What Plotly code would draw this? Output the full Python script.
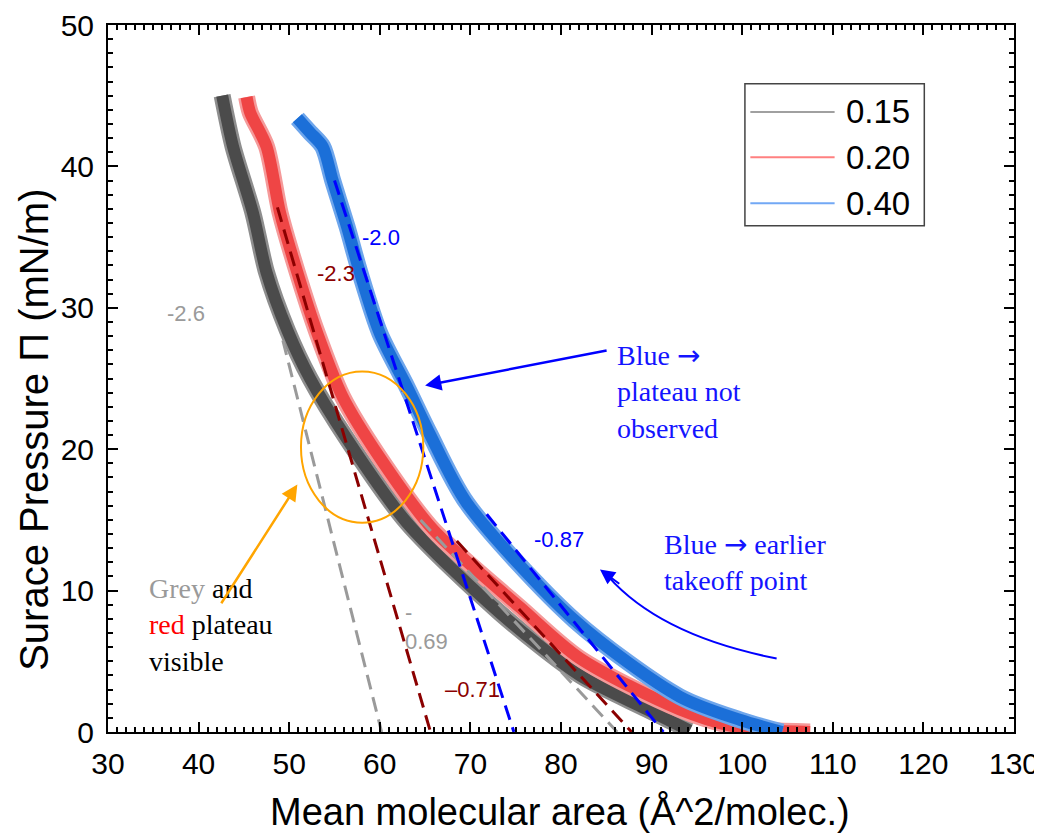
import plotly.graph_objects as go

# ---------------- data ----------------
series_names = ["0.15", "0.20", "0.40"]

grey_x = [42.6, 43.8, 46.0, 47.5, 49.8, 52.3, 56.4, 63.0, 73.3, 82.1, 89.5, 94.2]
grey_y = [45.0, 41.4, 36.7, 32.5, 28.4, 25.0, 20.7, 14.8, 8.4, 4.0, 1.6, 0.1]

red_x = [45.3, 45.7, 47.5, 49.0, 50.9, 53.1, 55.9, 60.0, 65.9, 75.5, 82.1, 93.1, 99.8, 107.5]
red_y = [44.9, 43.8, 41.4, 36.7, 32.5, 28.2, 23.7, 19.4, 14.3, 8.8, 5.2, 1.6, 0.3, 0.0]

blue_x = [50.9, 52.3, 53.7, 54.8, 56.4, 57.8, 60.0, 63.0, 65.5, 69.6, 81.5, 93.1, 99.8, 104.4]
blue_y = [43.4, 42.4, 41.4, 39.0, 35.7, 32.5, 28.2, 24.4, 21.1, 16.2, 7.9, 2.5, 0.85, 0.0]

# fitted tangent lines: [start, end] points
fit_grey_steep_x = [49.3, 60.2];  fit_grey_steep_y = [27.7, 0.0]
fit_grey_flat_x = [64.5, 86.2];   fit_grey_flat_y = [15.0, 0.0]
fit_red_steep_x = [48.7, 65.6];   fit_red_steep_y = [37.1, 0.0]
fit_red_flat_x = [68.5, 87.8];    fit_red_flat_y = [13.5, 0.0]
fit_blue_steep_x = [55.0, 74.8];  fit_blue_steep_y = [39.0, 0.0]
fit_blue_flat_x = [71.8, 91.3];   fit_blue_flat_y = [15.4, 0.0]

slope_labels = ["-2.6", "-2.3", "-2.0", "-0.87", "-<br>0.69", "\u20130.71"]
slope_label_x = [36.3, 52.8, 57.8, 76.8, 62.6, 67.0]
slope_label_y = [29.6, 32.4, 35.0, 13.6, 7.4, 3.0]

x_ticks = [30, 40, 50, 60, 70, 80, 90, 100, 110, 120, 130]
y_ticks = [0, 10, 20, 30, 40, 50]

# ---------------- styles ----------------
GREY_IN, GREY_OUT = "#4b4b4b", "#8e8e8e"
RED_IN, RED_OUT = "#ef4545", "#f59a9a"
BLUE_IN, BLUE_OUT = "#1b6fd8", "#6ea6ec"
FIT_GREY, FIT_RED, FIT_BLUE = "#9a9a9a", "#8b0000", "#0000ff"
SANS = "Liberation Sans, Arial, sans-serif"
SERIF = "Liberation Serif, Times New Roman, serif"
ARROW = "<span style='font-family:DejaVu Sans'>\u2192</span>"

fig = go.Figure()

for xs, ys, cin, cout in [(grey_x, grey_y, GREY_IN, GREY_OUT),
                           (red_x, red_y, RED_IN, RED_OUT),
                           (blue_x, blue_y, BLUE_IN, BLUE_OUT)]:
    fig.add_trace(go.Scatter(x=xs, y=ys, mode="lines",
                             line=dict(color=cout, width=17, shape="spline", smoothing=0.8),
                             showlegend=False, hoverinfo="skip"))
    fig.add_trace(go.Scatter(x=xs, y=ys, mode="lines",
                             line=dict(color=cin, width=12, shape="spline", smoothing=0.8),
                             showlegend=False, hoverinfo="skip"))

for xs, ys, c in [(fit_grey_steep_x, fit_grey_steep_y, FIT_GREY),
                  (fit_grey_flat_x, fit_grey_flat_y, FIT_GREY),
                  (fit_red_steep_x, fit_red_steep_y, FIT_RED),
                  (fit_red_flat_x, fit_red_flat_y, FIT_RED),
                  (fit_blue_steep_x, fit_blue_steep_y, FIT_BLUE),
                  (fit_blue_flat_x, fit_blue_flat_y, FIT_BLUE)]:
    fig.add_trace(go.Scatter(x=xs, y=ys, mode="lines",
                             line=dict(color=c, width=3, dash="15px,8px"),
                             showlegend=False, hoverinfo="skip"))

annotations = []
label_colors = [FIT_GREY, FIT_RED, FIT_BLUE, FIT_BLUE, FIT_GREY, FIT_RED]
for t, x, y, c in zip(slope_labels, slope_label_x, slope_label_y, label_colors):
    annotations.append(dict(x=x, y=y, xref="x", yref="y", text=t, showarrow=False,
                            xanchor="left", yanchor="middle", align="left",
                            font=dict(family=SANS, size=22, color=c)))

# serif comments
annotations.append(dict(x=86.0, y=27.9, xref="x", yref="y", xanchor="left", yanchor="top",
                        align="left", showarrow=False,
                        text="Blue " + ARROW + "<br>plateau not<br>observed",
                        font=dict(family=SERIF, size=28, color="#1414ff")))
annotations.append(dict(x=91.1, y=14.6, xref="x", yref="y", xanchor="left", yanchor="top",
                        align="left", showarrow=False,
                        text="Blue " + ARROW + " earlier<br>takeoff point",
                        font=dict(family=SERIF, size=28, color="#1414ff")))
annotations.append(dict(x=34.3, y=11.4, xref="x", yref="y", xanchor="left", yanchor="top",
                        align="left", showarrow=False,
                        text="<span style='color:#9a9a9a'>Grey</span> and<br>"
                             "<span style='color:#ff0000'>red</span> plateau<br>visible",
                        font=dict(family=SERIF, size=28, color="#000000")))

# arrows
annotations.append(dict(x=65.0, y=24.5, ax=85.2, ay=27.0, xref="x", yref="y",
                        axref="x", ayref="y", text="", showarrow=True,
                        arrowhead=2, arrowsize=1.3, arrowwidth=2.5, arrowcolor="#0000ff"))
annotations.append(dict(x=50.9, y=17.5, ax=42.4, ay=9.0, xref="x", yref="y",
                        axref="x", ayref="y", text="", showarrow=True,
                        arrowhead=2, arrowsize=1.3, arrowwidth=2.5, arrowcolor="#ffa500"))
annotations.append(dict(x=84.3, y=11.5, ax=86.6, ay=10.4, xref="x", yref="y",
                        axref="x", ayref="y", text="", showarrow=True,
                        arrowhead=2, arrowsize=1.5, arrowwidth=2, arrowcolor="#0000ff"))

# axis titles
annotations.append(dict(x=0.499, y=-0.113, xref="paper", yref="paper", showarrow=False,
                        xanchor="center", yanchor="middle",
                        text="Mean molecular area (\u00c5^2/molec.)",
                        font=dict(family=SANS, size=38, color="black")))
annotations.append(dict(x=-0.082, y=0.427, xref="paper", yref="paper", showarrow=False,
                        xanchor="center", yanchor="middle",
                        textangle=-90, text="Surace Pressure \u03a0 (mN/m)",
                        font=dict(family=SANS, size=40, color="black")))

# manual legend
leg_colors = ["#a0a0a0", "#ff8080", "#72a8f5"]
leg_y = [0.877, 0.813, 0.748]
shapes = [dict(type="rect", xref="paper", yref="paper", x0=0.703, x1=0.901, y0=0.716, y1=0.917,
               line=dict(color="#444444", width=1.5), fillcolor="white")]
for name, c, yy in zip(series_names, leg_colors, leg_y):
    shapes.append(dict(type="line", xref="paper", yref="paper", x0=0.709, x1=0.802, y0=yy, y1=yy,
                       line=dict(color=c, width=2)))
    annotations.append(dict(x=0.812, y=yy, xref="paper", yref="paper", text=name,
                            showarrow=False, xanchor="left", yanchor="middle",
                            font=dict(family=SANS, size=33, color="black")))

# orange ellipse and curved blue arrow
shapes.append(dict(type="circle", xref="x", yref="y", x0=51.3, x1=64.8, y0=14.8, y1=25.5,
                   line=dict(color="#ffa500", width=2)))
shapes.append(dict(type="path", xref="x", yref="y", path="M 103.8,5.2 Q 91.0,6.8 85.2,11.0",
                   line=dict(color="#0000ff", width=2)))

axis_common = dict(showline=True, linewidth=2, linecolor="black", mirror="ticks",
                   ticks="inside", ticklen=10, tickwidth=2, tickcolor="black",
                   showgrid=False, zeroline=False, automargin=False,
                   minor=dict(ticks="inside", ticklen=5, tickwidth=1.5, tickcolor="black", dtick=1),
                   tickfont=dict(family=SANS, size=30, color="black"))

# the page body has an 8px margin, so margins are reduced by 8px at left/top
fig.update_layout(
    width=1042, height=835,
    margin=dict(l=100, r=36, t=17, b=111, autoexpand=False),
    paper_bgcolor="white", plot_bgcolor="white",
    showlegend=False,
    xaxis=dict(range=[30, 130], tickvals=x_ticks, ticklabelstandoff=4, **axis_common),
    yaxis=dict(range=[0, 50], tickvals=y_ticks, ticklabelstandoff=6, **axis_common),
    shapes=shapes, annotations=annotations,
)

fig.write_html("out.html")
